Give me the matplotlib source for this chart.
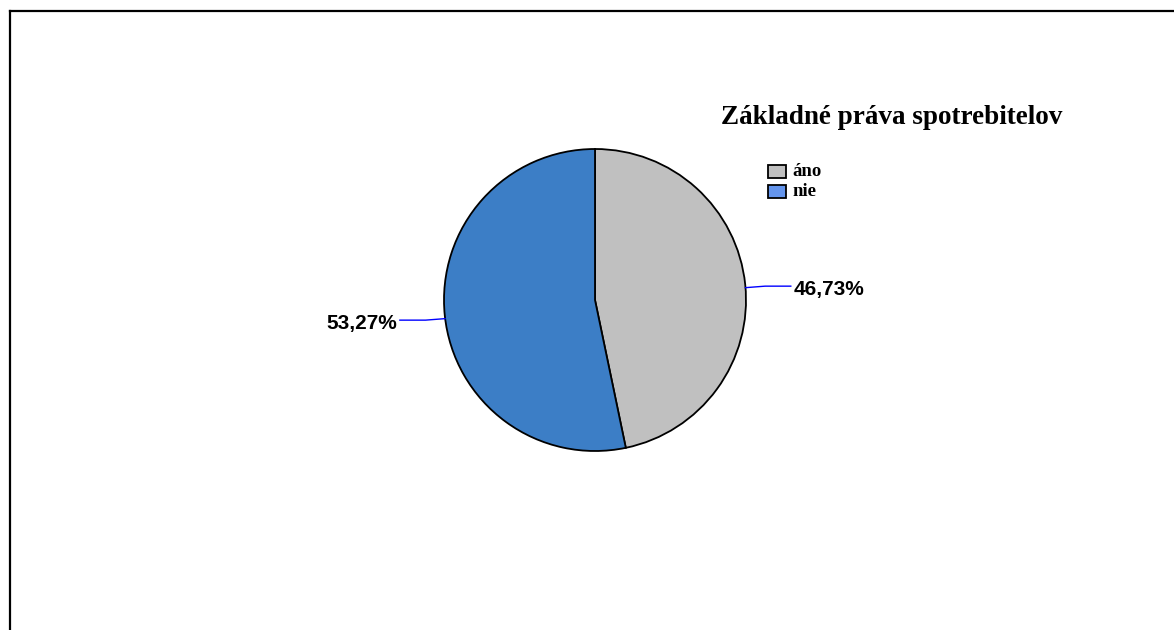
import numpy as np
import matplotlib
matplotlib.use("Agg")
import matplotlib.pyplot as plt
from matplotlib.patches import Rectangle
from matplotlib.lines import Line2D

# ---------------------------------------------------------------------------
# Data
# ---------------------------------------------------------------------------

categories = ["áno", "nie"]
shares = [46.73, 53.27]
slice_colors = ["#C0C0C0", "#3C7EC6"]
legend_colors = ["#C0C0C0", "#6495ED"]
title = "Základné práva spotrebitelov"

W, H = 1174, 630
fig = plt.figure(figsize=(W / 100, H / 100), dpi=100)
fig.patch.set_facecolor("white")


def fx(px):
    return px / W


def fy(py):
    return 1 - py / H


# outer frame (only top and left edges fall inside the canvas)
fig.add_artist(Line2D([fx(10), fx(W)], [fy(11), fy(11)], color="black", lw=1.6))
fig.add_artist(Line2D([fx(10), fx(10)], [fy(11), fy(H)], color="black", lw=1.6))

# pie, centred at (595, 300) px with 151 px radius
cx, cy, r = 595, 300, 151
ax = fig.add_axes([fx(cx - r), fy(cy + r), 2 * r / W, 2 * r / H])
wedges, _ = ax.pie(shares, colors=slice_colors, startangle=90, counterclock=False,
                   wedgeprops=dict(edgecolor="black", linewidth=1.3))
ax.set_xlim(-1, 1)
ax.set_ylim(-1, 1)
ax.set_aspect("auto")
ax.axis("off")

# percentage labels with short blue leader lines (anchored a touch below mid-angle)
for w, val in zip(wedges, shares):
    mid_deg = (w.theta1 + w.theta2) / 2
    s = np.sign(np.cos(np.deg2rad(mid_deg)))
    mid = np.deg2rad(mid_deg - 1.2 * s)
    x0, y0 = np.cos(mid), np.sin(mid)
    x1, y1 = x0 + s * 0.13, y0 + 0.01 * s
    x2 = x0 + s * 0.30
    ax.plot([x0, x1, x2], [y0, y1, y1], color="#0000FF", lw=1.0, clip_on=False)
    ax.text(x2 + s * 0.02, y1 - 0.02, f"{val:.2f}%".replace(".", ","),
            ha="left" if s > 0 else "right", va="center",
            fontsize=15, fontweight="bold", family="Liberation Sans")

# title
fig.text(fx(892), fy(118), title, ha="center", va="center",
         fontsize=19.5, fontweight="bold", family="Liberation Serif")

# legend
for i, (lab, col) in enumerate(zip(categories, legend_colors)):
    top = 165 + i * 20
    fig.add_artist(Rectangle((fx(768), fy(top + 13)), 18 / W, 13 / H,
                             facecolor=col, edgecolor="black", lw=1.3))
    fig.text(fx(792), fy(top + 7), lab, ha="left", va="center",
             fontsize=13.5, fontweight="bold", family="Liberation Serif")

fig.savefig("out.png", dpi=100)
